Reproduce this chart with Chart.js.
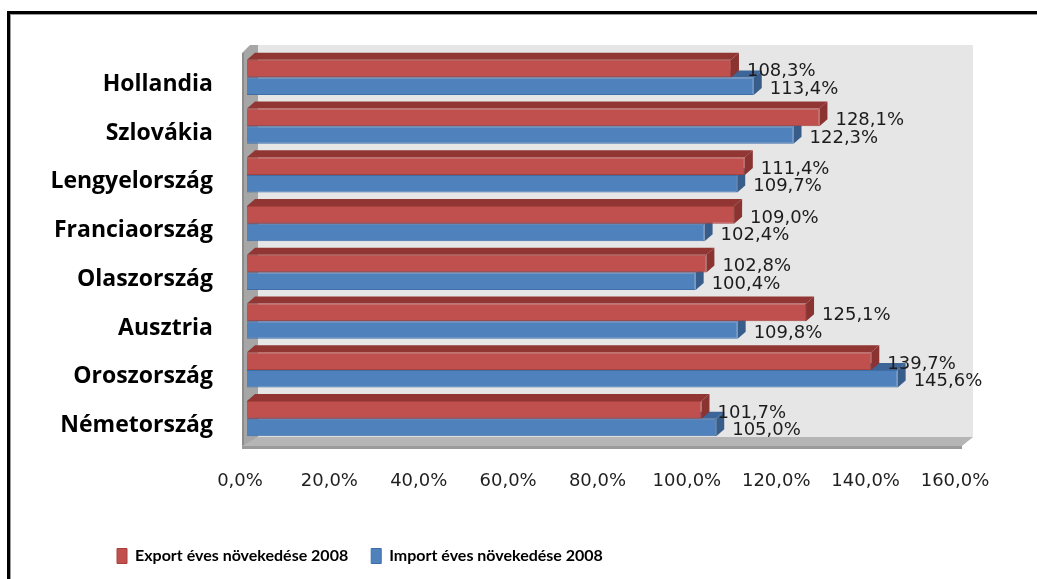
<!DOCTYPE html>
<html><head><meta charset="utf-8">
<script src="https://cdn.jsdelivr.net/npm/chart.js@4.4.1/dist/chart.umd.min.js"></script>
<style>
html,body{margin:0;padding:0;background:#fff;overflow:hidden;}
#wrap{position:relative;width:1037px;height:579px;}
#frame{position:absolute;left:7px;top:11px;width:1100px;height:700px;border-top:3px solid #000;border-left:3px solid #000;pointer-events:none;}
#frame2{position:absolute;left:10px;top:14px;width:1100px;height:700px;border-top:1px solid #9a9a9a;border-left:1px solid #9a9a9a;pointer-events:none;}
</style></head>
<body><div id="wrap"><canvas id="c" width="1037" height="579"></canvas><div id="frame"></div><div id="frame2"></div></div>
<script>
const categories = ['Hollandia','Szlovákia','Lengyelország','Franciaország','Olaszország','Ausztria','Oroszország','Németország'];
const exportValues = [108.3,128.1,111.4,109.0,102.8,125.1,139.7,101.7];
const importValues = [113.4,122.3,109.7,102.4,100.4,109.8,145.6,105.0];
const seriesNames = ['Export éves növekedése 2008','Import éves növekedése 2008'];
const axisMin = 0, axisMax = 160, axisStep = 20;

const fmt = v => v.toFixed(1).replace('.', ',') + '%';
const DX = 8, DY = -7;

const threeD = {
  id: 'threeD',
  afterLayout(chart) {
    const lg = chart.legend;
    if (lg) { const shift = 94 - lg.left; lg.left += shift; lg.right += shift; }
  },
  beforeDraw(chart) {
    const {ctx, chartArea: a} = chart;
    const L = a.left, R = a.right, T = a.top, B = a.bottom;
    ctx.save();
    ctx.fillStyle = '#e6e6e6';
    ctx.fillRect(L + 11, T - 8, R - L, B - T + 2);
    ctx.fillStyle = '#a6a6a6';
    ctx.beginPath();
    ctx.moveTo(L - 5, T); ctx.lineTo(L + 3, T - 8); ctx.lineTo(L + 11, T - 8);
    ctx.lineTo(L + 11, B - 6); ctx.lineTo(L - 5, B + 5); ctx.closePath(); ctx.fill();
    ctx.fillStyle = '#8c8c8c';
    ctx.fillRect(L - 5, T, 2, B - T + 5);
    ctx.fillStyle = '#b5b5b5';
    ctx.beginPath();
    ctx.moveTo(L + 11, B - 6); ctx.lineTo(R + 11, B - 6); ctx.lineTo(R, B + 3); ctx.lineTo(L - 5, B + 3);
    ctx.closePath(); ctx.fill();
    ctx.fillStyle = '#9a9a9a';
    ctx.fillRect(L - 5, B + 3, R - L + 5, 3);
    ctx.restore();
  },
  beforeDatasetsDraw(chart) {
    const ctx = chart.ctx;
    const faces = [
      {top: '#923633', side: '#8a3331'},
      {top: '#3d6597', side: '#385d8a'}
    ];
    ctx.save();
    for (let d = chart.data.datasets.length - 1; d >= 0; d--) {
      const meta = chart.getDatasetMeta(d);
      meta.data.forEach(el => {
        const top = el.y - el.height / 2, bot = el.y + el.height / 2;
        const x = el.x, base = el.base;
        ctx.fillStyle = faces[d].top;
        ctx.beginPath();
        ctx.moveTo(base, top); ctx.lineTo(base + DX, top + DY); ctx.lineTo(x + DX, top + DY); ctx.lineTo(x, top);
        ctx.closePath(); ctx.fill();
        ctx.fillStyle = faces[d].side;
        ctx.beginPath();
        ctx.moveTo(x, top); ctx.lineTo(x + DX, top + DY); ctx.lineTo(x + DX, bot + DY); ctx.lineTo(x, bot);
        ctx.closePath(); ctx.fill();
      });
    }
    ctx.restore();
  },
  afterDatasetsDraw(chart) {
    const ctx = chart.ctx;
    ctx.save();
    ctx.font = '18px "DejaVu Sans"';
    ctx.fillStyle = '#1c1c1c';
    ctx.textAlign = 'left';
    ctx.textBaseline = 'middle';
    chart.data.datasets.forEach((ds, d) => {
      chart.getDatasetMeta(d).data.forEach((el, i) => {
        ctx.fillText(fmt(ds.data[i]), el.x + 16, el.y + 3);
      });
    });
    ctx.restore();
  }
};

new Chart(document.getElementById('c'), {
  type: 'bar',
  data: {
    labels: categories,
    datasets: [
      {label: seriesNames[0], data: exportValues, backgroundColor: '#c0504d', borderColor: '#a8423f', borderWidth: 1},
      {label: seriesNames[1], data: importValues, backgroundColor: '#4f81bd', borderColor: '#3f6ea6', borderWidth: 1}
    ]
  },
  options: {
    indexAxis: 'y',
    responsive: false,
    animation: false,
    devicePixelRatio: 1,
    categoryPercentage: 0.72,
    barPercentage: 1,
    layout: {padding: {left: 25, right: 75, top: 53, bottom: 5}},
    scales: {
      x: {
        min: axisMin, max: axisMax,
        grid: {display: false, drawTicks: false},
        border: {display: false},
        ticks: {stepSize: axisStep, padding: 28, labelOffset: -7, color: '#1f1f1f', font: {family: 'DejaVu Sans', size: 18}, callback: v => fmt(v)},
        afterFit(s) { s.height = 82; }
      },
      y: {
        grid: {display: false, drawTicks: false},
        border: {display: false},
        ticks: {padding: 34, labelOffset: 7, color: '#000', font: {family: 'Open Sans', size: 23, weight: 'bold'}},
        afterFit(s) { s.width = 222; }
      }
    },
    plugins: {
      tooltip: {enabled: false},
      legend: {
        position: 'bottom', align: 'start',
        labels: {boxWidth: 10, boxHeight: 15, padding: 23, color: '#000', font: {family: 'Lato', size: 16, weight: 'bold'}}
      }
    }
  },
  plugins: [threeD]
});
</script>
</body></html>
